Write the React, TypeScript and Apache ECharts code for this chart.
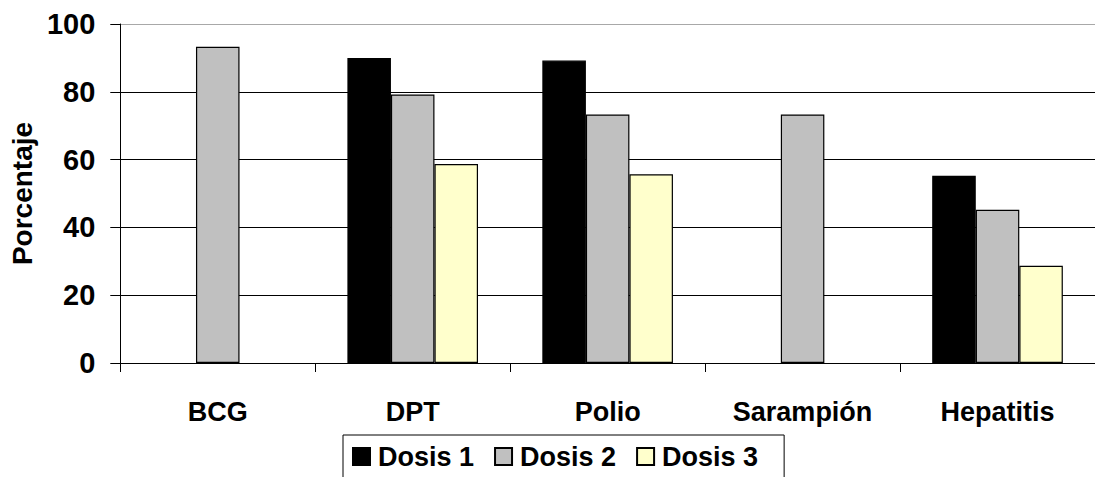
import React, { useEffect, useRef } from "react";
import * as echarts from "echarts";

const categories = ["BCG", "DPT", "Polio", "Sarampión", "Hepatitis"];
const dosis1: (number | null)[] = [null, 90, 89.2, null, 55.2];
const dosis2: (number | null)[] = [93.3, 79.2, 73.3, 73.3, 45.2];
const dosis3: (number | null)[] = [null, 58.7, 55.7, null, 28.7];
const seriesNames = ["Dosis 1", "Dosis 2", "Dosis 3"];
const seriesColors = ["#000000", "#c0c0c0", "#ffffcc"];
const yTitle = "Porcentaje";

const FONT = "'Liberation Sans', Arial, Helvetica, sans-serif";

export default function App() {
  const ref = useRef<HTMLDivElement>(null);
  useEffect(() => {
    if (!ref.current) return;
    const chart = echarts.init(ref.current, null, { renderer: "svg" });
    const data = [dosis1, dosis2, dosis3];
    chart.setOption({
      animation: false,
      backgroundColor: "#ffffff",
      textStyle: { fontFamily: FONT },
      grid: { left: 117, top: 24, right: -11, bottom: 114, containLabel: false },
      legend: {
        data: seriesNames,
        left: 343,
        top: 435,
        orient: "horizontal",
        icon: "rect",
        itemWidth: 17,
        itemHeight: 17,
        itemGap: 20,
        borderColor: "#000",
        borderWidth: 1,
        padding: [8, 26, 30, 9],
        textStyle: {
          fontSize: 27,
          fontWeight: "bold",
          color: "#000",
          fontFamily: FONT,
          padding: [0, 0, 0, 3],
        },
      },
      xAxis: {
        type: "category",
        data: categories,
        axisLine: { lineStyle: { color: "#000", width: 1 } },
        axisTick: { show: true, length: 9, lineStyle: { color: "#000" } },
        axisLabel: {
          margin: 35,
          fontSize: 27,
          fontWeight: "bold",
          color: "#000",
          fontFamily: FONT,
        },
      },
      yAxis: {
        type: "value",
        min: 0,
        max: 100,
        interval: 20,
        name: yTitle,
        nameLocation: "middle",
        nameGap: 82,
        nameTextStyle: {
          fontSize: 28,
          fontWeight: "bold",
          color: "#000",
          fontFamily: FONT,
        },
        axisLine: { show: true, lineStyle: { color: "#000", width: 1 } },
        axisTick: { show: true, length: 10, lineStyle: { color: "#000" } },
        axisLabel: {
          margin: 25,
          fontSize: 29,
          fontWeight: "bold",
          color: "#000",
          fontFamily: FONT,
        },
        splitLine: {
          show: true,
          lineStyle: {
            color: ["#000", "#000", "#000", "#000", "#000", "#a8a8a8"],
            width: 1,
          },
        },
      },
      series: seriesNames.map((name, i) => ({
        name,
        type: "bar",
        data: data[i],
        barGap: "0%",
        barCategoryGap: "33%",
        itemStyle: { color: seriesColors[i], borderColor: "#000", borderWidth: 1.2 },
      })),
    });
    return () => chart.dispose();
  }, []);
  return (
    <div
      ref={ref}
      style={{ position: "fixed", left: 0, top: 0, width: 1095, height: 477 }}
    />
  );
}
